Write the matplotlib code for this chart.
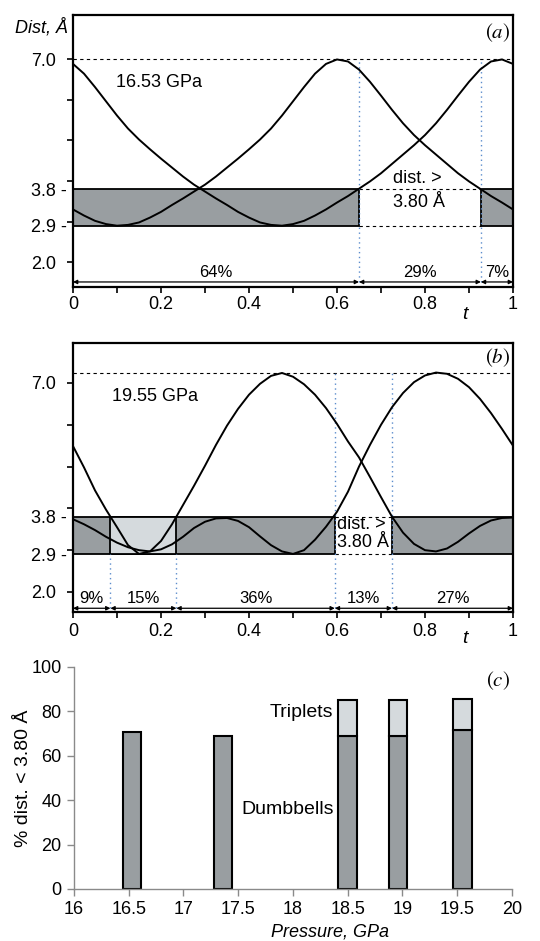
import numpy as np
import matplotlib
matplotlib.use("Agg")
import matplotlib.pyplot as plt
from matplotlib.patches import Rectangle

plt.rcParams["font.family"] = ["Liberation Sans", "DejaVu Sans"]
plt.rcParams["mathtext.fontset"] = "stix"

# sampling points along the trajectory (fraction of period)
t = np.linspace(0, 1, 41)

# panel (a): 16.53 GPa, two interatomic distances (A)
a_dist1 = [6.88, 6.64, 6.31, 5.96, 5.61, 5.29, 5.02, 4.78, 4.55, 4.33, 4.11,
           3.91, 3.74, 3.57, 3.41, 3.24, 3.10, 2.98, 2.92, 2.90, 2.94,
           3.02, 3.15, 3.30, 3.47, 3.63, 3.81, 3.99, 4.19, 4.42, 4.65,
           4.88, 5.13, 5.42, 5.75, 6.10, 6.44, 6.74, 6.94, 6.99, 6.88]
a_dist2 = [3.30, 3.15, 3.02, 2.94, 2.90, 2.92, 2.98, 3.10, 3.24, 3.41, 3.57,
           3.74, 3.91, 4.11, 4.33, 4.55, 4.78, 5.02, 5.29, 5.61, 5.96,
           6.31, 6.64, 6.88, 6.99, 6.94, 6.74, 6.44, 6.10, 5.75, 5.42,
           5.13, 4.88, 4.65, 4.42, 4.19, 3.99, 3.81, 3.63, 3.47, 3.30]
a_bounds = [0, 0.65, 0.927, 1]
a_pct = ["64%", "29%", "7%"]

# panel (b): 19.55 GPa
b_dist1 = [5.49, 4.98, 4.43, 3.97, 3.55, 3.12, 2.91, 2.97, 3.22, 3.62, 4.08,
           4.54, 5.02, 5.52, 5.98, 6.38, 6.72, 6.98, 7.17, 7.24, 7.15,
           6.97, 6.72, 6.40, 6.02, 5.60, 5.22, 4.75, 4.27, 3.80, 3.42,
           3.15, 3.00, 2.97, 3.04, 3.20, 3.40, 3.58, 3.71, 3.77, 3.78]
b_dist2 = [3.74, 3.62, 3.48, 3.32, 3.18, 3.07, 3.00, 2.97, 3.02, 3.14, 3.32,
           3.53, 3.68, 3.76, 3.77, 3.70, 3.55, 3.33, 3.12, 2.97, 2.91,
           3.00, 3.25, 3.56, 3.92, 4.40, 5.00, 5.52, 6.00, 6.42, 6.76,
           7.02, 7.18, 7.25, 7.22, 7.10, 6.90, 6.62, 6.28, 5.90, 5.50]
b_bounds = [0, 0.085, 0.235, 0.595, 0.725, 1]
b_pct = ["9%", "15%", "36%", "13%", "27%"]

# panel (c): percentage of distances below 3.80 A
pressure = [16.53, 17.36, 18.50, 18.96, 19.55]
dumbbells = [70.5, 68.7, 68.7, 69.0, 71.7]
triplets = [0, 0, 16.6, 16.0, 13.9]

dark = "#999ea1"
light = "#d5dadd"
blue = "#5b8ccc"
lo, hi = 2.9, 3.8


def curve_panel(ax, d1, d2, ylim, top, bounds, pcts, dark_spans, light_spans,
                white, full_vl, low_vl, arrow_y, xpad):
    ax.set_xlim(0, 1)
    ax.set_ylim(*ylim)

    # shaded bands for dist < 3.80
    for x0, x1 in dark_spans:
        ax.add_patch(Rectangle((x0, lo), x1 - x0, hi - lo, fc=dark,
                               ec="black", lw=1.3, zorder=2))
    for x0, x1 in light_spans:
        ax.add_patch(Rectangle((x0, lo), x1 - x0, hi - lo, fc=light,
                               ec="black", lw=1.3, zorder=2))

    # dashed guides
    ax.plot([0, 1], [top, top], color="black", lw=0.8, ls=(0, (3, 3)), zorder=3)
    for y in (lo, hi):
        ax.plot(white, [y, y], color="black", lw=0.8, ls=(0, (3, 3)), zorder=3)

    # blue dotted boundaries
    for x in full_vl:
        ax.plot([x, x], [arrow_y, top], color=blue, lw=1.0,
                ls=(0, (1, 2.5)), zorder=3)
    for x in low_vl:
        ax.plot([x, x], [arrow_y, lo], color=blue, lw=1.0,
                ls=(0, (1, 2.5)), zorder=3)

    ax.plot(t, d1, color="black", lw=1.4, zorder=4)
    ax.plot(t, d2, color="black", lw=1.4, zorder=4)

    # percentage arrows
    for i, p in enumerate(pcts):
        x0, x1 = bounds[i], bounds[i + 1]
        ax.annotate("", xy=(x1, arrow_y), xytext=(x0, arrow_y),
                    arrowprops=dict(arrowstyle="<|-|>", lw=0.9, color="black",
                                    shrinkA=0, shrinkB=0, mutation_scale=6))
        ax.text((x0 + x1) / 2, arrow_y + 0.05, p, ha="center", va="bottom",
                fontsize=12)

    ax.set_xticks([0, 0.2, 0.4, 0.6, 0.8, 1], ["0", "0.2", "0.4", "0.6", "0.8", "1"])
    ax.set_xticks([0.1, 0.3, 0.5, 0.7, 0.9], minor=True)
    ax.set_yticks([2, 3, 4, 5, 6, 7], ["2.0", "", "", "", "", "7.0"])
    ax.set_yticks([lo, hi], ["2.9 -", "3.8 -"], minor=True)
    ax.tick_params(axis="both", which="both", direction="out", labelsize=13,
                   width=1.2, length=4)
    ax.tick_params(axis="y", which="major", pad=8)
    ax.tick_params(axis="y", which="minor", length=0, pad=4.5)
    ax.tick_params(axis="x", which="both", pad=xpad)
    for s in ax.spines.values():
        s.set_linewidth(1.6)
    ax.text(0.885, -0.1, "t", transform=ax.transAxes, style="italic",
            fontsize=14, va="center")


fig = plt.figure(figsize=(5.4, 9.41), dpi=100)

ax_a = fig.add_axes([0.1352, 0.695, 0.8148, 0.289])
curve_panel(ax_a, a_dist1, a_dist2, (1.392, 8.082), 7.0, a_bounds, a_pct,
            [(0, 0.65), (0.927, 1.0)], [], [0.65, 0.927],
            [0.65, 0.927], [], 1.516, 2.5)
ax_a.text(0.098, 6.43, "16.53 GPa", fontsize=13, va="center")
ax_a.text(0.727, 4.07, "dist. >", fontsize=13, va="center")
ax_a.text(0.727, 3.46, "3.80 Å", fontsize=13, va="center")
ax_a.text(0.993, 0.934, r"$(a)$", transform=ax_a.transAxes, ha="right",
          va="center", fontsize=15)
fig.text(68 / 540, 1 - 27 / 941, "Dist, Å", style="italic", fontsize=13,
         ha="right", va="center")

ax_b = fig.add_axes([0.1352, 0.35, 0.8148, 0.2855])
curve_panel(ax_b, b_dist1, b_dist2, (1.529, 7.957), 7.25, b_bounds, b_pct,
            [(0, 0.595), (0.725, 1.0)], [(0.085, 0.235)], [0.595, 0.725],
            [0.595, 0.725], [0.085, 0.235], 1.61, 4)
ax_b.text(0.089, 6.68, "19.55 GPa", fontsize=13, va="center")
ax_b.text(0.6, 3.62, "dist. >", fontsize=13, va="center", zorder=5)
ax_b.text(0.6, 3.18, "3.80 Å", fontsize=13, va="center", zorder=5)
ax_b.text(0.993, 0.944, r"$(b)$", transform=ax_b.transAxes, ha="right",
          va="center", fontsize=15)

# panel (c): stacked bars
ax_c = fig.add_axes([0.137, 0.0553, 0.811, 0.2359])
ax_c.bar(pressure, dumbbells, width=0.168, color=dark, edgecolor="black",
         linewidth=1.5, zorder=2)
for p, d, tr in zip(pressure, dumbbells, triplets):
    if tr > 0:
        ax_c.bar(p, tr, bottom=d, width=0.168, color=light, edgecolor="black",
                 linewidth=1.5, zorder=2)
ax_c.set_xlim(16, 20)
ax_c.set_ylim(0, 100)
ax_c.set_xticks(np.arange(16, 20.01, 0.5),
                ["16", "16.5", "17", "17.5", "18", "18.5", "19", "19.5", "20"])
ax_c.set_yticks([0, 20, 40, 60, 80, 100])
ax_c.spines["top"].set_visible(False)
ax_c.spines["right"].set_visible(False)
for s in ("left", "bottom"):
    ax_c.spines[s].set_color("#8a8a8a")
    ax_c.spines[s].set_linewidth(1.0)
ax_c.tick_params(axis="both", color="#8a8a8a", length=5, width=1.0,
                 labelsize=13, pad=4)
ax_c.set_ylabel("% dist. < 3.80 Å", fontsize=14)
ax_c.yaxis.set_label_coords(-0.096, 0.5)
ax_c.set_xlabel("Pressure, GPa", fontsize=13, style="italic")
ax_c.xaxis.set_label_coords(0.585, -0.155)
ax_c.text(18.37, 79.3, "Triplets", fontsize=14, ha="right", va="center")
ax_c.text(18.37, 35.9, "Dumbbells", fontsize=14, ha="right", va="center")
ax_c.text(19.98, 94, r"$(c)$", fontsize=15, ha="right", va="center")

fig.savefig("out.png", dpi=100)
